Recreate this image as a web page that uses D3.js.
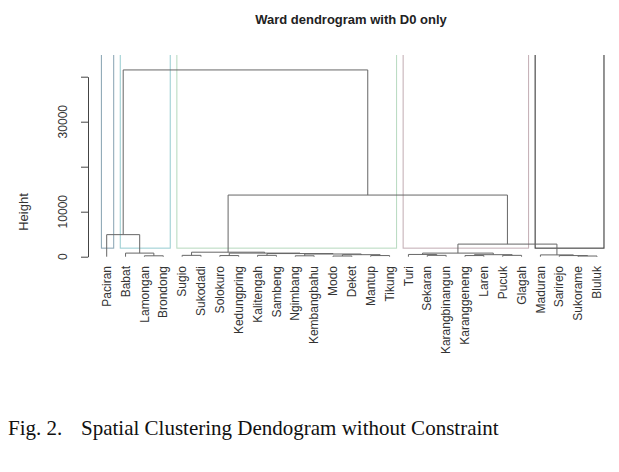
<!DOCTYPE html>
<html><head><meta charset="utf-8">
<script src="https://cdn.jsdelivr.net/npm/d3@7/dist/d3.min.js"></script>
<style>body{margin:0;background:#fff}svg{display:block}</style>
</head><body>
<svg id="chart" width="619" height="472"></svg>
<script>
// ---------------- data ----------------
const leaves = ["Paciran","Babat","Lamongan","Brondong","Sugio","Sukodadi","Solokuro",
  "Kedungpring","Kalitengah","Sambeng","Ngimbang","Kembangbahu","Modo","Deket","Mantup",
  "Tikung","Turi","Sekaran","Karangbinangun","Karanggeneng","Laren","Pucuk","Glagah",
  "Maduran","Sarirejo","Sukorame","Bluluk"];
// merge table (hclust style): negative = leaf number, positive = earlier merge row; third = height
const mergeLeft   = [-3,-2,-1,-5,-7,-9,-11,-13,-15, 8, 7, 6, 5, 4,-18,-17,-20,-22,17,16,-26,-25,-24,20,14, 3];
const mergeRight  = [-4, 1, 2,-6,-8,-10,-12,-14,-16, 9,10,11,12,13,-19,15,-21,-23,18,19,-27,21,22,23,24,25];
const mergeHeight = [200,800,4900,300,250,300,200,150,250,450,600,700,800,1000,300,500,250,300,450,800,150,250,400,2800,13700,41500];
// cluster membership (k = 5) used for the highlighted rectangles
const clusterOf = [1,2,2,2,3,3,3,3,3,3,3,3,3,3,3,3,4,4,4,4,4,4,4,5,5,5,5];
const yTicks = [0,10000,20000,30000,40000];
const yTickLabels = ["0","10000","30000"];
const title = "Ward dendrogram with D0 only";
const yTitle = "Height";
const captionLead = "Fig. 2.";
const captionText = "Spatial Clustering Dendogram without Constraint";

// ---------------- styles ----------------
const boxColors = ["#90aab8","#9fd0d4","#bcdcc4","#c7b3b9","#3c3c3c"];
const lineColor = "#666";

const svg = d3.select("#chart");
const x = d3.scaleLinear().domain([1, leaves.length]).range([106.7, 597]);
const y = d3.scaleLinear().domain([0, 40000]).range([256.7, 76.7]);

// clip for plot region
svg.append("defs").append("clipPath").attr("id","plotclip")
  .append("rect").attr("x",88).attr("y",55).attr("width",531).attr("height",300);

// ---- cluster rectangles ----
const clusters = d3.groups(leaves.map((l,i)=>({i:i+1,c:clusterOf[i]})), d=>d.c);
const boxG = svg.append("g").attr("clip-path","url(#plotclip)");
clusters.forEach(([c, members], k) => {
  const first = d3.min(members, d=>d.i), last = d3.max(members, d=>d.i);
  const x0 = x(first - 0.28), x1 = x(last + 0.37);
  boxG.append("rect")
    .attr("x", x0).attr("y", y(60000))
    .attr("width", x1 - x0).attr("height", y(1900) - y(60000))
    .attr("fill","none").attr("stroke", boxColors[k]).attr("stroke-width",1.1);
});

// ---- dendrogram ----
const nodeX = [], nodeH = [];
function pos(ref){ return ref < 0 ? {x: x(-ref), h: 0} : {x: nodeX[ref-1], h: nodeH[ref-1]}; }
const dg = svg.append("g").attr("fill","none").attr("stroke", lineColor).attr("stroke-width",1);
mergeLeft.forEach((l, i) => {
  const a = pos(l), b = pos(mergeRight[i]), h = mergeHeight[i];
  nodeX[i] = (a.x + b.x) / 2; nodeH[i] = h;
  dg.append("path").attr("d",
    `M${a.x},${y(a.h)}V${y(h)}H${b.x}V${y(b.h)}`);
});

// ---- y axis ----
const axis = svg.append("g").attr("transform","translate(88,0)")
  .call(d3.axisLeft(y).tickValues(yTicks).tickSize(7).tickSizeOuter(0).tickFormat(""));
axis.select(".domain").attr("stroke","#444");
axis.selectAll(".tick line").attr("stroke","#444");
yTickLabels.forEach(t => {
  svg.append("text").attr("transform",`translate(67,${y(+t)}) rotate(-90)`)
    .attr("text-anchor","middle").attr("font-family","Liberation Sans, Arial, sans-serif")
    .attr("font-size",12).attr("fill","#333").text(t);
});
svg.append("text").attr("transform","translate(27.5,212) rotate(-90)")
  .attr("text-anchor","middle").attr("font-family","Liberation Sans, Arial, sans-serif")
  .attr("font-size",13).attr("fill","#333").text(yTitle);

// ---- leaf labels ----
svg.append("g").selectAll("text").data(leaves).join("text")
  .attr("transform",(d,i)=>`translate(${x(i+1)},266) rotate(-90)`)
  .attr("dy","0.35em").attr("text-anchor","end")
  .attr("font-family","Liberation Sans, Arial, sans-serif").attr("font-size",12)
  .attr("fill","#333").text(d=>d);

// ---- title ----
svg.append("text").attr("x",351).attr("y",24).attr("text-anchor","middle")
  .attr("font-family","Liberation Sans, Arial, sans-serif").attr("font-weight","bold")
  .attr("font-size",13).attr("fill","#222").text(title);

// ---- caption ----
svg.append("text").attr("x",8).attr("y",435)
  .attr("font-family","Liberation Serif, Times New Roman, serif").attr("font-size",21)
  .attr("fill","#111").text(captionLead);
svg.append("text").attr("x",81).attr("y",435)
  .attr("font-family","Liberation Serif, Times New Roman, serif").attr("font-size",21)
  .attr("fill","#111").text(captionText);
</script>
</body></html>
